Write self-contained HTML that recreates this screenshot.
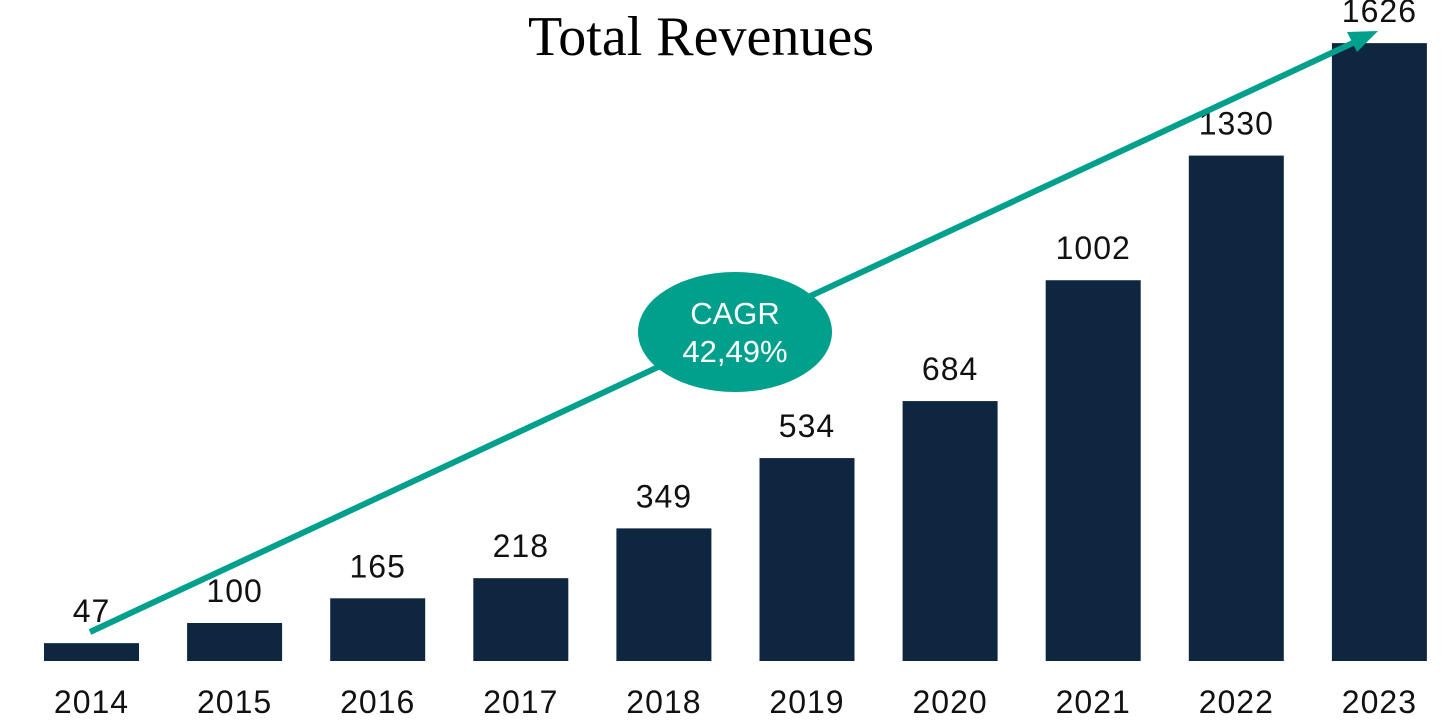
<!DOCTYPE html>
<html><head><meta charset="utf-8">
<style>
html,body{margin:0;padding:0;background:#fff;}
svg{display:block;}
</style></head>
<body>
<svg id="chart" width="1456" height="725" viewBox="0 0 1456 725" xmlns="http://www.w3.org/2000/svg">
<text x="701" y="55" text-anchor="middle" font-family="Liberation Serif, serif" font-size="56" fill="#000">Total Revenues</text>
<g id="bars"></g>
<g id="arrow-layer"></g>
</svg>
<script>
const years = ["2014","2015","2016","2017","2018","2019","2020","2021","2022","2023"];
const revenues = [47,100,165,218,349,534,684,1002,1330,1626];
const cagrLabel = ["CAGR","42,49%"];

const NS = "http://www.w3.org/2000/svg";
const baseY = 661, pxPerUnit = 0.38, firstX = 44, step = 143.1, barW = 95;
const xPos = i => firstX + i * step;
const yPos = v => baseY - v * pxPerUnit;
const g = document.getElementById('bars');
years.forEach((yr, i) => {
  const x = xPos(i), y = yPos(revenues[i]);
  const r = document.createElementNS(NS, 'rect');
  r.setAttribute('x', x); r.setAttribute('y', y);
  r.setAttribute('width', barW); r.setAttribute('height', baseY - y);
  r.setAttribute('fill', '#0F2640');
  
  
  g.appendChild(r);
  const t = document.createElementNS(NS, 'text');
  t.setAttribute('x', x + barW / 2); t.setAttribute('y', y - 21);
  t.setAttribute('text-anchor', 'middle');
  t.setAttribute('font-family', 'Liberation Sans, sans-serif');
  t.setAttribute('font-size', '32'); t.setAttribute('letter-spacing', '1'); t.setAttribute('fill', '#111');
  t.textContent = revenues[i];
  
  
  g.appendChild(t);
  const l = document.createElementNS(NS, 'text');
  l.setAttribute('x', x + barW / 2); l.setAttribute('y', 713);
  l.setAttribute('text-anchor', 'middle');
  l.setAttribute('font-family', 'Liberation Sans, sans-serif');
  l.setAttribute('font-size', '32'); l.setAttribute('letter-spacing', '1'); l.setAttribute('fill', '#111');
  l.textContent = yr;
  
  
  g.appendChild(l);
});
const a = document.getElementById('arrow-layer');
a.innerHTML = '<line x1="90" y1="632" x2="1355" y2="42" stroke="#00A08C" stroke-width="6"/>' +
 '<polygon points="1378,31 1347,32 1357,52" fill="#00A08C"/>' +
 '<ellipse cx="735" cy="332" rx="97" ry="60" fill="#00A08C"/>' +
 '<text x="735" y="324" text-anchor="middle" font-family="Liberation Sans, sans-serif" font-size="31" fill="#fff">' + cagrLabel[0] + '</text>' +
 '<text x="735" y="362" text-anchor="middle" font-family="Liberation Sans, sans-serif" font-size="31" fill="#fff">' + cagrLabel[1] + '</text>';
</script>
</body></html>
